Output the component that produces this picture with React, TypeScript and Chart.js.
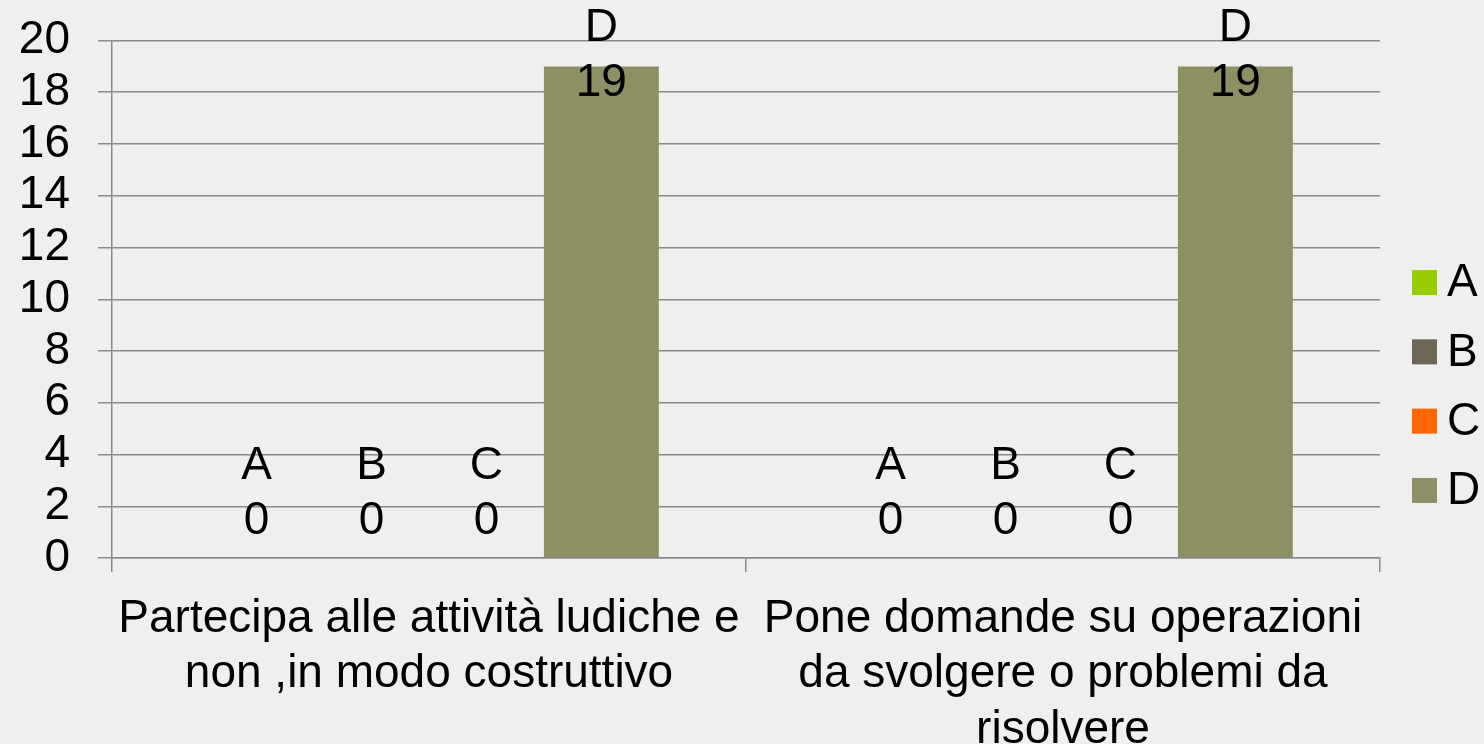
import React, { useEffect, useRef } from "react";
import { Chart, registerables } from "chart.js";

Chart.register(...registerables);

const categories: string[][] = [
  ["Partecipa alle attività ludiche e", "non ,in modo costruttivo"],
  ["Pone domande su operazioni", "da svolgere o problemi da", "risolvere"],
];
const seriesNames = ["A", "B", "C", "D"];
const seriesColors = ["#99cc00", "#6e6555", "#ff6600", "#8d9062"];
const valuesA = [0, 0];
const valuesB = [0, 0];
const valuesC = [0, 0];
const valuesD = [19, 19];
const yTicks = { min: 0, max: 20, step: 2 };

const FONT = "'Liberation Sans', Arial, sans-serif";
const FS = 46;

const labelPlugin = {
  id: "barLabels",
  afterDatasetsDraw(chart: any) {
    const ctx = chart.ctx;
    const top = chart.chartArea.top;
    ctx.save();
    ctx.font = `${FS}px ${FONT}`;
    ctx.fillStyle = "#000";
    ctx.textAlign = "center";
    ctx.textBaseline = "middle";
    chart.data.datasets.forEach((ds: any, di: number) => {
      const meta = chart.getDatasetMeta(di);
      meta.data.forEach((bar: any, i: number) => {
        let y1 = bar.y - 92;
        if (y1 < top - 12) y1 = top - 12;
        ctx.fillText(ds.label, bar.x, y1);
        ctx.fillText(String(ds.data[i]), bar.x, y1 + 55);
      });
    });
    ctx.restore();
  },
};

const legendPlugin = {
  id: "customLegend",
  afterDraw(chart: any) {
    const ctx = chart.ctx;
    const x0 = chart.chartArea.right + 32;
    const n = chart.data.datasets.length;
    const spacing = 69.3;
    const cy = chart.height / 2 + 14.5;
    ctx.save();
    ctx.font = `${FS}px ${FONT}`;
    ctx.textBaseline = "middle";
    ctx.textAlign = "left";
    chart.data.datasets.forEach((ds: any, i: number) => {
      const y = cy + (i - (n - 1) / 2) * spacing;
      ctx.fillStyle = ds.backgroundColor;
      ctx.fillRect(x0, y - 12.5, 25, 25);
      ctx.fillStyle = "#000";
      ctx.fillText(ds.label, x0 + 35, y + 1);
    });
    ctx.restore();
  },
};

export default function App() {
  const ref = useRef<HTMLCanvasElement>(null);
  useEffect(() => {
    document.body.style.margin = "0";
    document.body.style.background = "#efefef";
    const series = [valuesA, valuesB, valuesC, valuesD];
    const chart = new Chart(ref.current!, {
      type: "bar",
      data: {
        labels: categories,
        datasets: seriesNames.map((name, i) => ({
          label: name,
          data: series[i],
          backgroundColor: seriesColors[i],
          borderWidth: 0,
          categoryPercentage: 0.725,
          barPercentage: 1,
        })),
      },
      options: {
        animation: false,
        responsive: false,
        maintainAspectRatio: false,
        layout: { padding: { top: 40.5, right: 104, left: 0, bottom: 0 } },
        plugins: { legend: { display: false }, tooltip: { enabled: false } },
        scales: {
          x: {
            afterFit: (s: any) => {
              s.height = 186;
              s.paddingLeft = 0;
              s.paddingRight = 0;
            },
            grid: {
              drawOnChartArea: false,
              drawTicks: true,
              tickLength: 14,
              offset: true,
              color: "#8a8a8a",
              lineWidth: 1.5,
            },
            border: { color: "#8a8a8a", width: 1.5 },
            ticks: {
              color: "#000",
              font: { family: FONT, size: FS, lineHeight: 1.2 },
              padding: 20,
              maxRotation: 0,
              autoSkip: false,
            },
          },
          y: {
            min: yTicks.min,
            max: yTicks.max,
            afterFit: (s: any) => {
              s.width = 112;
              s.paddingTop = 0;
              s.paddingBottom = 0;
            },
            grid: {
              color: "#8a8a8a",
              lineWidth: 1.5,
              tickLength: 14,
            },
            border: { color: "#8a8a8a", width: 1.5 },
            ticks: {
              stepSize: yTicks.step,
              autoSkip: false,
              color: "#000",
              font: { family: FONT, size: FS },
              padding: 28,
            },
          },
        },
      },
      plugins: [labelPlugin, legendPlugin],
    });
    return () => chart.destroy();
  }, []);
  return (
    <div style={{ width: 1484, height: 744, background: "#efefef" }}>
      <canvas ref={ref} width={1484} height={744} style={{ display: "block" }} />
    </div>
  );
}
